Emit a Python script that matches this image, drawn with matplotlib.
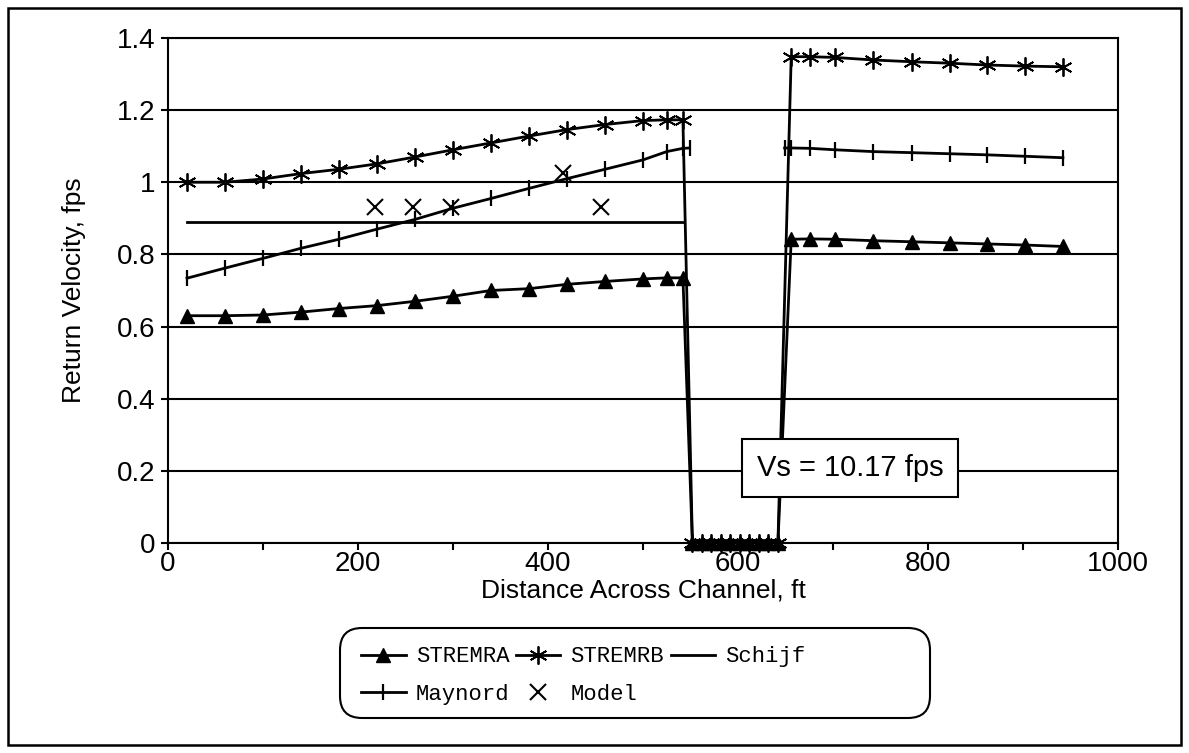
import matplotlib.pyplot as plt
import numpy as np
from matplotlib.patches import FancyBboxPatch, Rectangle
from matplotlib.ticker import MultipleLocator, FuncFormatter
from matplotlib.transforms import IdentityTransform

plt.rcParams['font.family'] = ['Liberation Sans', 'DejaVu Sans']

# distance across channel, ft
left_x = [20, 60, 100, 140, 180, 220, 260, 300, 340, 380, 420, 460, 500, 525, 542]
chan_x = [552, 562, 572, 582, 592, 602, 612, 622, 632, 642]
right_x = [656, 676, 702, 742, 783, 823, 862, 902, 942]

# return velocity, fps
stremra_left = [0.63, 0.63, 0.632, 0.64, 0.65, 0.658, 0.67, 0.684, 0.70, 0.705, 0.717, 0.725, 0.732, 0.735, 0.735]
stremra_chan = [0, 0, 0, 0, 0, 0, 0, 0, 0, 0]
stremra_right = [0.842, 0.843, 0.842, 0.838, 0.835, 0.832, 0.829, 0.826, 0.822]

stremrb_left = [1.0, 1.0, 1.009, 1.024, 1.036, 1.051, 1.07, 1.09, 1.109, 1.128, 1.146, 1.16, 1.171, 1.173, 1.173]
stremrb_chan = [0, 0, 0, 0, 0, 0, 0, 0, 0, 0]
stremrb_right = [1.348, 1.348, 1.346, 1.339, 1.334, 1.330, 1.325, 1.322, 1.320]

maynord_x = [20, 60, 100, 140, 180, 220, 260, 300, 340, 380, 420, 460, 500, 525, 542, 549,
             600, 649, 656, 676, 702, 742, 783, 823, 862, 902, 942]
maynord_y = [0.734, 0.762, 0.789, 0.817, 0.842, 0.870, 0.897, 0.928, 0.955, 0.983, 1.010, 1.036, 1.062, 1.085, 1.094, 1.095,
             np.nan, 1.095, 1.095, 1.094, 1.090, 1.085, 1.082, 1.079, 1.076, 1.072, 1.068]

schijf_x = [20, 542]
schijf_y = [0.89, 0.89]

model_x = [218, 258, 298, 416, 456]
model_y = [0.93, 0.93, 0.93, 1.025, 0.93]

y_ticks = [0, 0.2, 0.4, 0.6, 0.8, 1.0, 1.2, 1.4]

fig = plt.figure(figsize=(11.89, 7.53), dpi=100)
ax = fig.add_axes([0.1413, 0.2789, 0.799, 0.6707])

sx = left_x + chan_x + right_x
l_a, = ax.plot(sx, stremra_left + stremra_chan + stremra_right, color='black', lw=2,
               marker='^', ms=10, clip_on=False, zorder=4)
l_b, = ax.plot(sx, stremrb_left + stremrb_chan + stremrb_right, color='black', lw=2,
               marker=(6, 2, 0), ms=13, mew=1.3, clip_on=False, zorder=4)
l_s, = ax.plot(schijf_x, schijf_y, color='black', lw=2, zorder=3)
l_m, = ax.plot(maynord_x, maynord_y, color='black', lw=2, marker='|', ms=12, mew=1.6,
               clip_on=False, zorder=4)
l_x, = ax.plot(model_x, model_y, ls='none', color='black', marker='x', ms=12, mew=1.5, zorder=5)

ax.set_xlim(0, 1000)
ax.set_ylim(0, 1.4)
ax.xaxis.set_major_locator(MultipleLocator(200))
ax.xaxis.set_minor_locator(MultipleLocator(100))
ax.set_yticks(y_ticks)
ax.yaxis.set_major_formatter(FuncFormatter(lambda v, p: '%g' % round(v, 1)))
ax.tick_params(which='both', direction='out', length=5, width=1.5, labelsize=20, color='black')
ax.tick_params(axis='x', pad=1)
ax.tick_params(axis='y', pad=4)
ax.grid(axis='y', color='black', lw=1.5)
ax.set_axisbelow(True)
for s in ax.spines.values():
    s.set_linewidth(1.5)

ax.set_xlabel('Distance Across Channel, ft', fontsize=19, labelpad=1)
ax.set_ylabel('Return Velocity, fps', fontsize=19, labelpad=22)

ax.text(718, 0.208, 'Vs = 10.17 fps', fontsize=21, ha='center', va='center', zorder=6,
        bbox=dict(boxstyle='square,pad=0.5', fc='white', ec='black', lw=1.5))

# legend box drawn in pixels
fig.patches.append(FancyBboxPatch((340, 35), 590, 90, boxstyle='round,pad=0,rounding_size=22',
                                  transform=IdentityTransform(), fc='white', ec='black', lw=1.5))
fig.legend([l_a, l_m, l_b, l_x, l_s], ['STREMRA', 'Maynord', 'STREMRB', 'Model', 'Schijf'],
           ncol=3, loc='upper left', bbox_to_anchor=(0.287, 0.168), frameon=False,
           prop={'family': 'Liberation Mono', 'size': 16}, numpoints=1,
           handlelength=2.0, handletextpad=0.45, columnspacing=0.3, labelspacing=0.75)

fig.patches.append(Rectangle((0.007, 0.01), 0.986, 0.979, transform=fig.transFigure,
                             fill=False, ec='black', lw=1.8))

fig.savefig('out.png', dpi=100)
